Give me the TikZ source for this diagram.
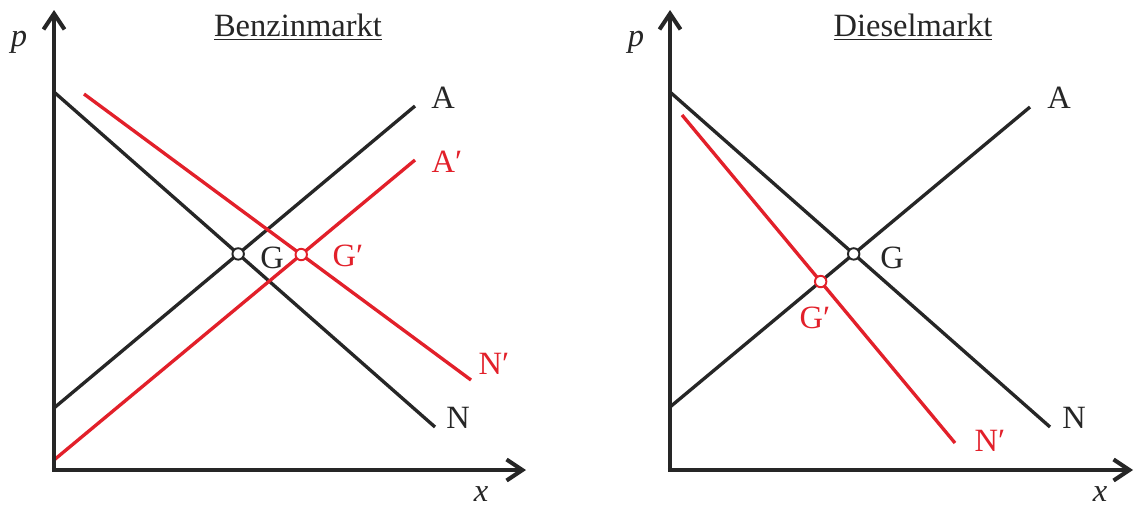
\documentclass[tikz,border=0pt]{standalone}
\usepackage{fontspec}
\setmainfont{Liberation Serif}
\usetikzlibrary{arrows.meta}
\definecolor{myred}{HTML}{E2202A}
\definecolor{myblack}{HTML}{262626}
\tikzset{
  axis/.style={draw=myblack, line width=2.3pt, -{Straight Barb[length=9pt,width=12pt,line width=2.3pt]}},
  curve/.style={line width=1.9pt},
  blk/.style={curve, draw=myblack},
  rd/.style={curve, draw=myred},
  lbl/.style={font=\fontsize{18.5}{21}\selectfont, inner sep=0pt},
  pt/.style={circle, draw, fill=white, line width=1.1pt, minimum size=6.5pt, inner sep=0pt},
}
\begin{document}
\begin{tikzpicture}[x=0.02cm, y=-0.02cm]
\useasboundingbox (0,0) rectangle (1135,507);
% ---------- left panel ----------
\coordinate (O1) at (54,470);
\coordinate (Y1) at (54,10);
\coordinate (X1) at (526,470);
\coordinate (N1a) at (54,92);   \coordinate (N1b) at (435,427);
\coordinate (A1a) at (54,408);  \coordinate (A1b) at (415,106);
\coordinate (Np1a) at (84,94);  \coordinate (Np1b) at (471,380);
\coordinate (Ap1a) at (54,460); \coordinate (Ap1b) at (415,160);
\draw[blk] (N1a) -- (N1b);
\draw[blk] (A1a) -- (A1b);
\draw[rd] (Np1a) -- (Np1b);
\draw[rd] (Ap1a) -- (Ap1b);
\draw[axis] (O1) -- (Y1);
\draw[axis] ([xshift=-1.15pt]O1) -- (X1);
\node[pt, draw=myblack] (G1) at (intersection of N1a--N1b and A1a--A1b) {};
\node[pt, draw=myred] (Gp1) at (intersection of Np1a--Np1b and Ap1a--Ap1b) {};
\node[lbl, text=myblack] (tG1) at (272,258) {G};
\node[lbl, text=myred] (tGp1) at (348,256) {G′};
\node[lbl, text=myblack] (tA1) at (443,98) {A};
\node[lbl, text=myred] (tAp1) at (447,162) {A′};
\node[lbl, text=myred] (tNp1) at (494,364) {N′};
\node[lbl, text=myblack] (tN1) at (458,418) {N};
\node[lbl, text=myblack] (T1) at (298,27) {\underline{Benzinmarkt}};
\node[lbl, text=myblack] (p1) at (19,42) {\textit{p}};
\node[lbl, text=myblack] (x1) at (481,494) {\textit{x}};
% ---------- right panel ----------
\coordinate (O2) at (670,470);
\coordinate (Y2) at (670,10);
\coordinate (X2) at (1133,470);
\coordinate (N2a) at (670,92);   \coordinate (N2b) at (1050,427);
\coordinate (A2a) at (670,407);  \coordinate (A2b) at (1030,107);
\coordinate (Np2a) at (682,115); \coordinate (Np2b) at (955,443);
\draw[blk] (N2a) -- (N2b);
\draw[blk] (A2a) -- (A2b);
\draw[rd] (Np2a) -- (Np2b);
\draw[axis] (O2) -- (Y2);
\draw[axis] ([xshift=-1.15pt]O2) -- (X2);
\node[pt, draw=myblack] (G2) at (intersection of N2a--N2b and A2a--A2b) {};
\node[pt, draw=myred] (Gp2) at (intersection of Np2a--Np2b and A2a--A2b) {};
\node[lbl, text=myblack] (tG2) at (892,258) {G};
\node[lbl, text=myred] (tGp2) at (815,318) {G′};
\node[lbl, text=myblack] (tA2) at (1059,98) {A};
\node[lbl, text=myred] (tNp2) at (990,441) {N′};
\node[lbl, text=myblack] (tN2) at (1074,418) {N};
\node[lbl, text=myblack] (T2) at (913,27) {\underline{Dieselmarkt}};
\node[lbl, text=myblack] (p2) at (636,42) {\textit{p}};
\node[lbl, text=myblack] (x2) at (1100,494) {\textit{x}};
\end{tikzpicture}
\end{document}
